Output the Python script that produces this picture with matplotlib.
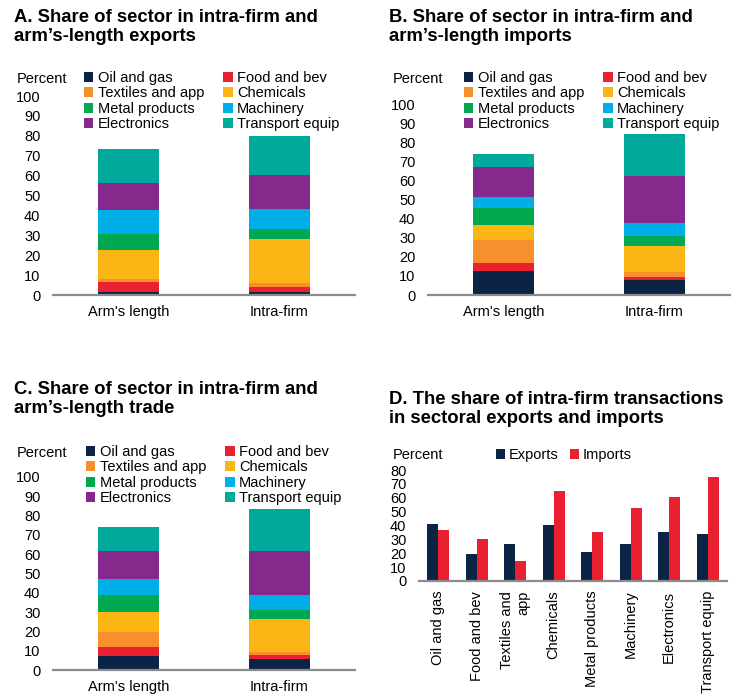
"""Intra-firm vs arm's-length trade: sector shares (panels A-D)."""

import matplotlib
matplotlib.use("Agg")
import matplotlib.pyplot as plt
import numpy as np
from matplotlib.patches import Patch

plt.rcParams["font.family"] = ["Liberation Sans", "DejaVu Sans"]

W, H = 742, 696

SECTORS = ["Oil and gas", "Food and bev", "Textiles and app", "Chemicals",
           "Metal products", "Machinery", "Electronics", "Transport equip"]
COLORS = ["#0b2445", "#e8202f", "#f68f2c", "#fbb616",
          "#00a94f", "#00aee8", "#86298c", "#00a99a"]
BAR_LABELS = ["Arm's length", "Intra-firm"]

# panel A: exports, panel B: imports, panel C: total trade (percent)
exp_arm = [1.3, 5.1, 1.6, 14.4, 8.4, 11.7, 13.9, 17.2]
exp_intra = [1.3, 2.9, 1.7, 22.2, 5.0, 10.2, 17.1, 19.7]
imp_arm = [12.8, 3.8, 12.2, 7.7, 8.8, 6.1, 15.4, 6.8]
imp_intra = [7.9, 1.7, 2.3, 14.0, 4.9, 6.8, 24.5, 22.0]
trade_arm = [7.3, 4.5, 7.8, 10.7, 8.5, 8.4, 14.6, 12.1]
trade_intra = [5.5, 2.1, 1.9, 16.8, 4.7, 7.8, 22.6, 22.2]

# panel D: share of intra-firm transactions
D_LABELS = ["Oil and gas", "Food and bev", "Textiles and\napp", "Chemicals",
            "Metal products", "Machinery", "Electronics", "Transport equip"]
d_exports = [40.9, 19.7, 26.9, 40.6, 20.9, 26.9, 35.3, 34.1]
d_imports = [37.0, 30.5, 14.2, 64.9, 35.3, 52.4, 60.3, 75.0]


def px_axes(fig, left, right, y0, ytop):
    """Axes from pixel coords (y measured from the top)."""
    return fig.add_axes([left / W, 1 - y0 / H, (right - left) / W, (y0 - ytop) / H])


def style(ax):
    for s in ["top", "right", "left"]:
        ax.spines[s].set_visible(False)
    ax.spines["bottom"].set_color("#8c8c8c")
    ax.spines["bottom"].set_linewidth(1.6)
    ax.tick_params(length=0, labelsize=10.5, pad=9)


def stacked(fig, box, arm, intra, title, title_xy, leg_xy, pct_xy):
    ax = px_axes(fig, *box)
    style(ax)
    x = np.arange(2)
    bottom = np.zeros(2)
    for name, color, a, i in zip(SECTORS, COLORS, arm, intra):
        vals = np.array([a, i])
        ax.bar(x, vals, 0.4, bottom=bottom, color=color, label=name)
        bottom += vals
    ax.set_xlim(-0.5, 1.5)
    ax.set_ylim(0, 100)
    ax.set_yticks(range(0, 101, 10))
    ax.set_xticks(x)
    ax.set_xticklabels(BAR_LABELS)
    ax.tick_params(axis="x", pad=7)
    fig.text(title_xy[0] / W, 1 - title_xy[1] / H, title, fontsize=13.3,
             fontweight="bold", va="top", ha="left", linespacing=1.15)
    fig.text(pct_xy[0] / W, 1 - pct_xy[1] / H, "Percent", fontsize=10.5,
             va="center", ha="left")
    order = [0, 2, 4, 6, 1, 3, 5, 7]
    handles = [Patch(facecolor=COLORS[k], label=SECTORS[k]) for k in order]
    fig.legend(handles=handles, ncol=2, loc="upper left",
               bbox_to_anchor=(leg_xy[0] / W, 1 - leg_xy[1] / H),
               frameon=False, fontsize=10.5, handlelength=0.65, handleheight=0.65,
               handletextpad=0.3, labelspacing=0.1, columnspacing=1.3, borderpad=0,
               borderaxespad=0)
    return ax


fig = plt.figure(figsize=(W / 100, H / 100), dpi=100)

stacked(fig, (53, 355, 295, 96), exp_arm, exp_intra,
        "A. Share of sector in intra-firm and\narm\u2019s-length exports",
        (14, 9), (84, 71), (17, 79))
stacked(fig, (428, 730, 295, 104), imp_arm, imp_intra,
        "B. Share of sector in intra-firm and\narm\u2019s-length imports",
        (389, 9), (464, 71), (393, 79))
stacked(fig, (53, 355, 670, 477), trade_arm, trade_intra,
        "C. Share of sector in intra-firm and\narm\u2019s-length trade",
        (14, 381), (86, 445), (17, 453))

# panel D
ax = px_axes(fig, 419, 727, 581, 470)
style(ax)
x = np.arange(len(D_LABELS))
w = 0.28
ax.bar(x - w / 2, d_exports, w, color=COLORS[0], label="Exports")
ax.bar(x + w / 2, d_imports, w, color=COLORS[1], label="Imports")
ax.set_xlim(-0.5, len(D_LABELS) - 0.5)
ax.set_ylim(0, 80)
ax.set_yticks(range(0, 81, 10))
ax.tick_params(axis="y", labelsize=10.5)
ax.set_xticks(x)
ax.set_xticklabels(D_LABELS, rotation=90, ha="center", va="top",
                   multialignment="right", fontsize=10.5)
ax.tick_params(axis="x", pad=7)
fig.text(389 / W, 1 - 391 / H,
         "D. The share of intra-firm transactions\nin sectoral exports and imports",
         fontsize=13.3, fontweight="bold", va="top", ha="left", linespacing=1.15)
fig.text(393 / W, 1 - 455 / H, "Percent", fontsize=10.5, va="center", ha="left")
fig.legend(handles=[Patch(facecolor=COLORS[0], label="Exports"),
                    Patch(facecolor=COLORS[1], label="Imports")],
           ncol=2, loc="center left", bbox_to_anchor=(496 / W, 1 - 455 / H),
           frameon=False, fontsize=10.5, handlelength=0.65, handleheight=0.65,
           handletextpad=0.2, columnspacing=0.8, borderpad=0, borderaxespad=0)

fig.savefig("out.png", dpi=100)
